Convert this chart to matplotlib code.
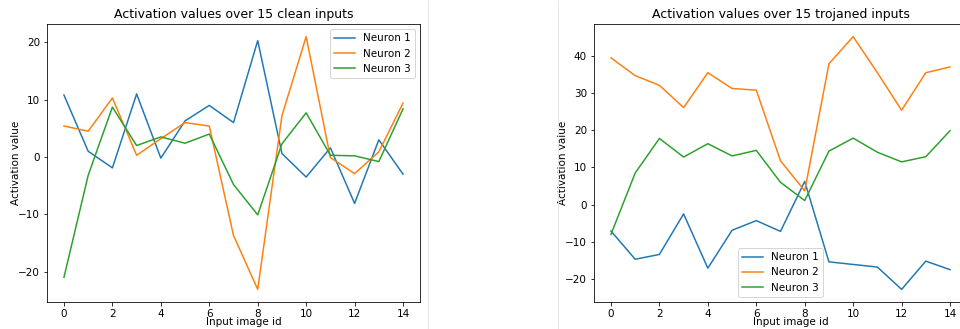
import matplotlib
matplotlib.use("Agg")
import matplotlib.pyplot as plt
from matplotlib.lines import Line2D

input_ids = list(range(15))
series_names = ["Neuron 1", "Neuron 2", "Neuron 3"]

clean_n1 = [10.8, 1.0, -1.9, 11.0, -0.2, 6.3, 9.0, 6.0, 20.3, 0.6, -3.5, 1.6, -8.1, 3.0, -3.0]
clean_n2 = [5.4, 4.5, 10.3, 0.3, 3.2, 6.0, 5.4, -13.7, -23.1, 7.2, 21.0, -0.1, -2.9, 0.9, 9.4]
clean_n3 = [-21.0, -3.2, 8.7, 2.0, 3.5, 2.4, 4.0, -4.8, -10.1, 2.3, 7.7, 0.3, 0.2, -0.8, 8.4]

troj_n1 = [-7.1, -14.7, -13.4, -2.5, -17.1, -6.9, -4.3, -7.2, 6.25, -15.4, -16.1, -16.8, -22.8, -15.2, -17.5]
troj_n2 = [39.5, 34.7, 32.1, 26.1, 35.5, 31.25, 30.8, 11.8, 3.7, 37.9, 45.2, 35.5, 25.4, 35.5, 37.05]
troj_n3 = [-8.0, 8.5, 17.8, 12.8, 16.4, 13.1, 14.6, 6.0, 1.1, 14.4, 17.9, 14.1, 11.5, 12.9, 19.9]

titles = ["Activation values over 15 clean inputs", "Activation values over 15 trojaned inputs"]
xlabel = "Input image id"
ylabel = "Activation value"

plt.rcParams["font.size"] = 10.4

W, H = 960, 329
fig = plt.figure(figsize=(W / 72, H / 72), dpi=72)

def px_axes(x0, y0, x1, y1):
    return fig.add_axes([x0 / W, 1 - y1 / H, (x1 - x0) / W, (y1 - y0) / H])

ax1 = px_axes(47, 24, 420, 302)
ax2 = px_axes(594, 24, 967, 302)

for ax, data, title, loc in [
    (ax1, [clean_n1, clean_n2, clean_n3], titles[0], "upper right"),
    (ax2, [troj_n1, troj_n2, troj_n3], titles[1], "lower center"),
]:
    for vals, name in zip(data, series_names):
        ax.plot(input_ids, vals, label=name)
    ax.set_title(title)
    ax.set_ylabel(ylabel)
    ax.yaxis.set_label_coords(-0.07, 0.5)
    ax.set_xlabel(xlabel, bbox=dict(facecolor="white", edgecolor="none", pad=0.5))
    ax.xaxis.set_label_coords(0.527, -0.055)
    ax.legend(loc=loc)

# faint separators
for xp in (427.5, 557.5):
    fig.add_artist(Line2D([xp / W, xp / W], [0, 1 - 1 / H], color="#e6e6e6", linewidth=1))

fig.savefig("out.png", dpi=72)
